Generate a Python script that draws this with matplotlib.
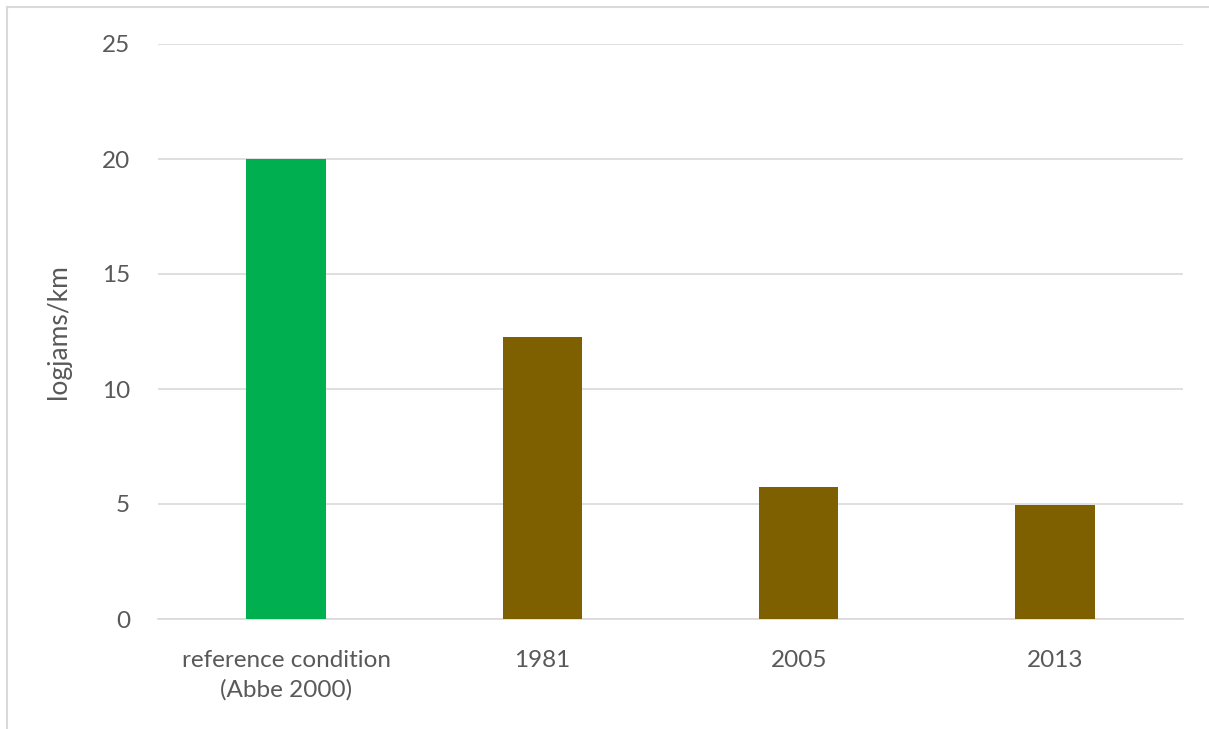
import matplotlib
matplotlib.use("Agg")
import matplotlib.pyplot as plt
from matplotlib.lines import Line2D

categories = ["reference condition\n(Abbe 2000)", "1981", "2005", "2013"]
logjams_per_km = [20.0, 12.25, 5.75, 4.95]
bar_colors = ["#00B050", "#7F6000", "#7F6000", "#7F6000"]
y_ticks = [0, 5, 10, 15, 20, 25]

plt.rcParams["font.family"] = ["Lato", "DejaVu Sans"]
text_color = "#595959"

W, H = 1209, 729
fig = plt.figure(figsize=(W / 100, H / 100), dpi=100)
fig.patch.set_facecolor("white")

# light frame edges along the top and left of the chart area
frame_kw = dict(transform=fig.transFigure, color="#D9D9D9", linewidth=1.5)
fig.add_artist(Line2D([7 / W, 1.0], [1 - 7 / H, 1 - 7 / H], **frame_kw))
fig.add_artist(Line2D([7 / W, 7 / W], [0.0, 1 - 7 / H], **frame_kw))

ax = fig.add_axes([158 / W, 110 / H, (1183 - 158) / W, (619 - 44) / H])
x = range(len(categories))
ax.bar(x, logjams_per_km, width=0.31, color=bar_colors, zorder=3)

ax.set_xlim(-0.5, len(categories) - 0.5)
ax.set_ylim(0, 25)
ax.set_yticks(y_ticks)
ax.set_xticks(list(x))
ax.set_xticklabels(categories, linespacing=1.5)
ax.yaxis.grid(True, color="#D9D9D9", linewidth=1.2, zorder=0)
ax.set_axisbelow(True)

for side in ("top", "right", "left"):
    ax.spines[side].set_visible(False)
ax.spines["bottom"].set_color("#D9D9D9")
ax.spines["bottom"].set_linewidth(1.2)

ax.tick_params(axis="both", length=0, labelsize=17.5, colors=text_color)
ax.tick_params(axis="y", pad=20)
ax.tick_params(axis="x", pad=22)
ax.set_ylabel("logjams/km", fontsize=19, color=text_color, labelpad=22)

fig.savefig("out.png", dpi=100, facecolor="white")
